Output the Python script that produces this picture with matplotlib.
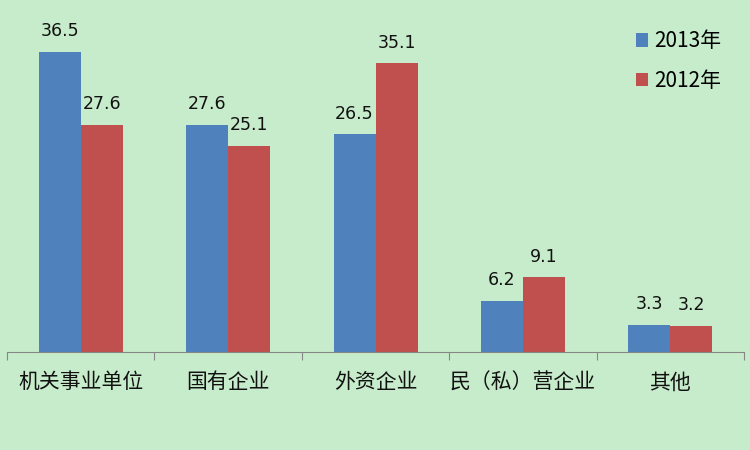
import matplotlib
matplotlib.use("Agg")
import matplotlib.pyplot as plt
import numpy as np

categories = ["机关事业单位", "国有企业", "外资企业", "民（私）营企业", "其他"]
series_names = ["2013年", "2012年"]
v2013 = [36.5, 27.6, 26.5, 6.2, 3.3]
v2012 = [27.6, 25.1, 35.1, 9.1, 3.2]

plt.rcParams['font.family'] = ['Noto Sans CJK SC', 'DejaVu Sans']
bg = "#C7ECCB"
blue = "#4F81BD"
red = "#C0504D"

fig = plt.figure(figsize=(7.5, 4.5), dpi=100, facecolor=bg)
ax = fig.add_axes([7/750, (450-352)/450, 737/750, 329/450], facecolor=bg)

x = np.arange(len(categories))
w = 42/147.4
b1 = ax.bar(x - w/2, v2013, w, color=blue, label=series_names[0])
b2 = ax.bar(x + w/2, v2012, w, color=red, label=series_names[1])
for bars, vals in ((b1, v2013), (b2, v2012)):
    for r, v in zip(bars, vals):
        ax.text(r.get_x() + r.get_width()/2, v + 1.4, f"{v:.1f}", ha="center", va="bottom",
                fontsize=12.5, family=['DejaVu Sans'], color="#111111")

ax.set_xlim(-0.5, len(categories) - 0.5)
ax.set_ylim(0, 40)
for s in ("top", "right", "left"):
    ax.spines[s].set_visible(False)
ax.spines["bottom"].set_color("#868686")
ax.set_yticks([])
ax.set_xticks(np.arange(len(categories) + 1) - 0.5, minor=False)
ax.set_xticklabels([])
ax.tick_params(axis="x", which="major", length=6, color="#868686", direction="out")
ax.set_xticks(x, minor=True)
ax.set_xticklabels(categories, minor=True, fontsize=15, color="#111111")
ax.tick_params(axis="x", which="minor", length=0, pad=14)

leg = ax.legend(loc="upper left", bbox_to_anchor=(610/737, 1.035), frameon=False, fontsize=15,
                handlelength=0.6, handleheight=0.6, handletextpad=0.3, labelspacing=0.85)
fig.savefig("out.png", dpi=100, facecolor=bg)
